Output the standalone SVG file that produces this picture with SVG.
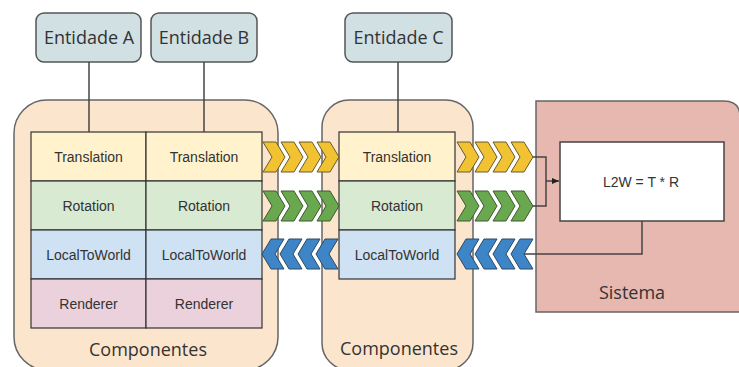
<svg xmlns="http://www.w3.org/2000/svg" width="739" height="367" viewBox="0 0 739 367">
<style>
.ent{fill:#D0E0E3;stroke:#555;stroke-width:1.5}
.cont{fill:#FCE5CD;stroke:#666;stroke-width:1.5}
.cell{stroke:#333;stroke-width:1.2}
.tr{fill:#FFF2CC}.ro{fill:#D9EAD3}.lw{fill:#CFE2F3}.re{fill:#EAD1DC}
.ct{font-family:"Liberation Sans",Arial,sans-serif;font-size:14px;fill:#333;text-anchor:middle}
.big{font-family:"Open Sans","Noto Sans",sans-serif;font-size:18px;fill:#333;text-anchor:middle}
.ln{fill:none;stroke:#444;stroke-width:1.5}
.cy{fill:#F1C232;stroke:#6b5a2a;stroke-width:1}
.cg{fill:#6AA84F;stroke:#3d5a30;stroke-width:1}
.cb{fill:#3D85C6;stroke:#2d4a66;stroke-width:1}
</style>
<defs>
<path id="chR" d="M0,-15 H13 L22,0 L13,15 H0 L9,0 Z"/>
<path id="chL" d="M0,0 L9,-15 H22 L13,0 L22,15 H9 Z"/>
<marker id="arr" markerWidth="8" markerHeight="8" refX="7" refY="4" orient="auto" markerUnits="userSpaceOnUse">
<path d="M0,1 L7,4 L0,7 Z" fill="#222"/>
</marker>
</defs>

<g id="componentes-1">
<rect class="cont" x="14" y="100" width="264" height="270" rx="33"/>
<text class="big" x="148" y="356">Componentes</text>
</g>
<g id="componentes-2">
<rect class="cont" x="322" y="100" width="151" height="270" rx="27"/>
<text class="big" x="399" y="355">Componentes</text>
</g>
<g id="sistema">
<path d="M536,101 H724 Q740,101 740,117 V312 H536 Z" fill="#E6B8AF" stroke="#666" stroke-width="1.5"/>
<text class="big" x="632" y="299">Sistema</text>
</g>
<g id="l2w">
<rect x="560" y="142" width="164" height="79" fill="#fff" stroke="#444" stroke-width="1.5"/>
<text class="ct" x="641" y="187">L2W = T * R</text>
</g>

<g id="tabela-a">
<rect class="cell tr" x="31" y="132" width="115" height="49"/>
<rect class="cell ro" x="31" y="181" width="115" height="49"/>
<rect class="cell lw" x="31" y="230" width="115" height="49"/>
<rect class="cell re" x="31" y="279" width="115" height="49"/>
<text class="ct" x="88.5" y="162">Translation</text>
<text class="ct" x="88.5" y="211">Rotation</text>
<text class="ct" x="88.5" y="260">LocalToWorld</text>
<text class="ct" x="88.5" y="309">Renderer</text>
</g>
<g id="tabela-b">
<rect class="cell tr" x="146" y="132" width="116" height="49"/>
<rect class="cell ro" x="146" y="181" width="116" height="49"/>
<rect class="cell lw" x="146" y="230" width="116" height="49"/>
<rect class="cell re" x="146" y="279" width="116" height="49"/>
<text class="ct" x="204" y="162">Translation</text>
<text class="ct" x="204" y="211">Rotation</text>
<text class="ct" x="204" y="260">LocalToWorld</text>
<text class="ct" x="204" y="309">Renderer</text>
</g>
<g id="tabela-c">
<rect class="cell tr" x="339" y="132" width="116" height="49"/>
<rect class="cell ro" x="339" y="181" width="116" height="49"/>
<rect class="cell lw" x="339" y="230" width="116" height="49"/>
<text class="ct" x="397" y="162">Translation</text>
<text class="ct" x="397" y="211">Rotation</text>
<text class="ct" x="397" y="260">LocalToWorld</text>
</g>

<g id="entidade-a">
<rect class="ent" x="36" y="13" width="105" height="49" rx="8"/>
<text class="big" x="89" y="44">Entidade A</text>
</g>
<g id="entidade-b">
<rect class="ent" x="151" y="13" width="106" height="49" rx="8"/>
<text class="big" x="204" y="44">Entidade B</text>
</g>
<g id="entidade-c">
<rect class="ent" x="345" y="13" width="107" height="49" rx="8"/>
<text class="big" x="398.5" y="44">Entidade C</text>
</g>

<g id="connectors">
<path class="ln" d="M89,62 V132"/>
<path class="ln" d="M204,62 V132"/>
<path class="ln" d="M398,62 V132"/>
<path class="ln" d="M532,157 H546 V206 H532"/>
<path class="ln" d="M546,181 H559" marker-end="url(#arr)"/>
<path class="ln" d="M642,221 V254 H524"/>
<g class="cy">
<use href="#chR" x="263" y="157"/><use href="#chR" x="281" y="157"/><use href="#chR" x="299" y="157"/><use href="#chR" x="317" y="157"/>
<use href="#chR" x="457" y="157"/><use href="#chR" x="475" y="157"/><use href="#chR" x="493" y="157"/><use href="#chR" x="511" y="157"/>
</g>
<g class="cg">
<use href="#chR" x="263" y="206"/><use href="#chR" x="281" y="206"/><use href="#chR" x="299" y="206"/><use href="#chR" x="317" y="206"/>
<use href="#chR" x="457" y="206"/><use href="#chR" x="475" y="206"/><use href="#chR" x="493" y="206"/><use href="#chR" x="511" y="206"/>
</g>
<g class="cb">
<use href="#chL" x="262" y="254"/><use href="#chL" x="280" y="254"/><use href="#chL" x="298" y="254"/><use href="#chL" x="316" y="254"/>
<use href="#chL" x="457" y="254"/><use href="#chL" x="475" y="254"/><use href="#chL" x="493" y="254"/><use href="#chL" x="511" y="254"/>
</g>
</g>
</svg>
